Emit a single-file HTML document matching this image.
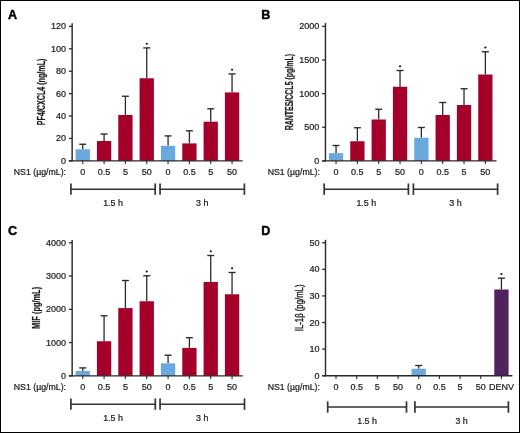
<!DOCTYPE html>
<html><head><meta charset="utf-8"><style>
html,body{margin:0;padding:0;background:#fff;width:520px;height:433px;overflow:hidden}
</style></head><body>
<svg width="520" height="433" viewBox="0 0 520 433" style="display:block;will-change:transform">
<rect x="0" y="0" width="520" height="433" fill="#fff"/>
<g font-family='"Liberation Sans", sans-serif' fill="#1a1a1a" stroke="none">
<text x="7.90" y="18.60" font-size="12.6" font-weight="bold" fill="#000" stroke="#000" stroke-width="0.4">A</text>
<line x1="72.15" y1="23.20" x2="72.15" y2="161.45" stroke="#2a2a2a" stroke-width="1.45"/>
<line x1="68.85" y1="160.85" x2="72.15" y2="160.85" stroke="#2a2a2a" stroke-width="1.3"/>
<text x="66.05" y="163.85" font-size="9.0" text-anchor="end" stroke="#1a1a1a" stroke-width="0.22" >0</text>
<line x1="68.85" y1="138.44" x2="72.15" y2="138.44" stroke="#2a2a2a" stroke-width="1.3"/>
<text x="66.05" y="141.44" font-size="9.0" text-anchor="end" stroke="#1a1a1a" stroke-width="0.22" >20</text>
<line x1="68.85" y1="116.03" x2="72.15" y2="116.03" stroke="#2a2a2a" stroke-width="1.3"/>
<text x="66.05" y="119.03" font-size="9.0" text-anchor="end" stroke="#1a1a1a" stroke-width="0.22" >40</text>
<line x1="68.85" y1="93.62" x2="72.15" y2="93.62" stroke="#2a2a2a" stroke-width="1.3"/>
<text x="66.05" y="96.62" font-size="9.0" text-anchor="end" stroke="#1a1a1a" stroke-width="0.22" >60</text>
<line x1="68.85" y1="71.22" x2="72.15" y2="71.22" stroke="#2a2a2a" stroke-width="1.3"/>
<text x="66.05" y="74.22" font-size="9.0" text-anchor="end" stroke="#1a1a1a" stroke-width="0.22" >80</text>
<line x1="68.85" y1="48.81" x2="72.15" y2="48.81" stroke="#2a2a2a" stroke-width="1.3"/>
<text x="66.05" y="51.81" font-size="9.0" text-anchor="end" stroke="#1a1a1a" stroke-width="0.22" >100</text>
<line x1="68.85" y1="26.40" x2="72.15" y2="26.40" stroke="#2a2a2a" stroke-width="1.3"/>
<text x="66.05" y="29.40" font-size="9.0" text-anchor="end" stroke="#1a1a1a" stroke-width="0.22" >120</text>
<text transform="translate(44.70,91.90) rotate(-90)" font-size="10" font-weight="bold" text-anchor="middle" textLength="66.6" lengthAdjust="spacingAndGlyphs" fill="#1a1a1a" stroke="#1a1a1a" stroke-width="0.2">PF4/CXCL4 (ng/mL)</text>
<line x1="82.75" y1="144.25" x2="82.75" y2="149.25" stroke="#2a2a2a" stroke-width="1.3"/>
<line x1="79.25" y1="144.25" x2="86.25" y2="144.25" stroke="#2a2a2a" stroke-width="1.35"/>
<rect x="75.60" y="149.25" width="14.30" height="11.60" fill="#6aa9de"/>
<line x1="104.08" y1="134.00" x2="104.08" y2="141.00" stroke="#2a2a2a" stroke-width="1.3"/>
<line x1="100.58" y1="134.00" x2="107.58" y2="134.00" stroke="#2a2a2a" stroke-width="1.35"/>
<rect x="96.93" y="141.00" width="14.30" height="19.85" fill="#a5002a"/>
<line x1="125.41" y1="96.25" x2="125.41" y2="115.00" stroke="#2a2a2a" stroke-width="1.3"/>
<line x1="121.91" y1="96.25" x2="128.91" y2="96.25" stroke="#2a2a2a" stroke-width="1.35"/>
<rect x="118.26" y="115.00" width="14.30" height="45.85" fill="#a5002a"/>
<line x1="146.74" y1="47.90" x2="146.74" y2="78.25" stroke="#2a2a2a" stroke-width="1.3"/>
<line x1="143.24" y1="47.90" x2="150.24" y2="47.90" stroke="#2a2a2a" stroke-width="1.35"/>
<rect x="139.59" y="78.25" width="14.30" height="82.60" fill="#a5002a"/>
<ellipse cx="146.74" cy="43.70" rx="1.1" ry="0.95" fill="#111"/>
<line x1="168.07" y1="135.90" x2="168.07" y2="145.80" stroke="#2a2a2a" stroke-width="1.3"/>
<line x1="164.57" y1="135.90" x2="171.57" y2="135.90" stroke="#2a2a2a" stroke-width="1.35"/>
<rect x="160.92" y="145.80" width="14.30" height="15.05" fill="#6aa9de"/>
<line x1="189.40" y1="130.80" x2="189.40" y2="143.40" stroke="#2a2a2a" stroke-width="1.3"/>
<line x1="185.90" y1="130.80" x2="192.90" y2="130.80" stroke="#2a2a2a" stroke-width="1.35"/>
<rect x="182.25" y="143.40" width="14.30" height="17.45" fill="#a5002a"/>
<line x1="210.73" y1="108.80" x2="210.73" y2="121.70" stroke="#2a2a2a" stroke-width="1.3"/>
<line x1="207.23" y1="108.80" x2="214.23" y2="108.80" stroke="#2a2a2a" stroke-width="1.35"/>
<rect x="203.58" y="121.70" width="14.30" height="39.15" fill="#a5002a"/>
<line x1="232.06" y1="73.90" x2="232.06" y2="92.40" stroke="#2a2a2a" stroke-width="1.3"/>
<line x1="228.56" y1="73.90" x2="235.56" y2="73.90" stroke="#2a2a2a" stroke-width="1.35"/>
<rect x="224.91" y="92.40" width="14.30" height="68.45" fill="#a5002a"/>
<ellipse cx="232.06" cy="69.70" rx="1.1" ry="0.95" fill="#111"/>
<line x1="68.85" y1="160.85" x2="242.60" y2="160.85" stroke="#2a2a2a" stroke-width="1.45"/>
<line x1="82.75" y1="160.85" x2="82.75" y2="164.05" stroke="#2a2a2a" stroke-width="1.1"/>
<line x1="104.08" y1="160.85" x2="104.08" y2="164.05" stroke="#2a2a2a" stroke-width="1.1"/>
<line x1="125.41" y1="160.85" x2="125.41" y2="164.05" stroke="#2a2a2a" stroke-width="1.1"/>
<line x1="146.74" y1="160.85" x2="146.74" y2="164.05" stroke="#2a2a2a" stroke-width="1.1"/>
<line x1="168.07" y1="160.85" x2="168.07" y2="164.05" stroke="#2a2a2a" stroke-width="1.1"/>
<line x1="189.40" y1="160.85" x2="189.40" y2="164.05" stroke="#2a2a2a" stroke-width="1.1"/>
<line x1="210.73" y1="160.85" x2="210.73" y2="164.05" stroke="#2a2a2a" stroke-width="1.1"/>
<line x1="232.06" y1="160.85" x2="232.06" y2="164.05" stroke="#2a2a2a" stroke-width="1.1"/>
<text x="82.75" y="175.25" font-size="9.0" text-anchor="middle" stroke="#1a1a1a" stroke-width="0.22" >0</text>
<text x="104.08" y="175.25" font-size="9.0" text-anchor="middle" stroke="#1a1a1a" stroke-width="0.22" >0.5</text>
<text x="125.41" y="175.25" font-size="9.0" text-anchor="middle" stroke="#1a1a1a" stroke-width="0.22" >5</text>
<text x="146.74" y="175.25" font-size="9.0" text-anchor="middle" stroke="#1a1a1a" stroke-width="0.22" >50</text>
<text x="168.07" y="175.25" font-size="9.0" text-anchor="middle" stroke="#1a1a1a" stroke-width="0.22" >0</text>
<text x="189.40" y="175.25" font-size="9.0" text-anchor="middle" stroke="#1a1a1a" stroke-width="0.22" >0.5</text>
<text x="210.73" y="175.25" font-size="9.0" text-anchor="middle" stroke="#1a1a1a" stroke-width="0.22" >5</text>
<text x="232.06" y="175.25" font-size="9.0" text-anchor="middle" stroke="#1a1a1a" stroke-width="0.22" >50</text>
<text x="66.00" y="175.25" font-size="8.75" text-anchor="end" stroke="#1a1a1a" stroke-width="0.22" >NS1 (µg/mL):</text>
<line x1="70.90" y1="189.15" x2="155.20" y2="189.15" stroke="#333" stroke-width="1.5"/>
<line x1="70.90" y1="183.45" x2="70.90" y2="194.85" stroke="#333" stroke-width="1.7"/>
<line x1="155.20" y1="183.45" x2="155.20" y2="194.85" stroke="#333" stroke-width="1.7"/>
<text x="113.05" y="205.65" font-size="8.9" text-anchor="middle" stroke="#1a1a1a" stroke-width="0.22" >1.5 h</text>
<line x1="160.05" y1="189.15" x2="244.40" y2="189.15" stroke="#333" stroke-width="1.5"/>
<line x1="160.05" y1="183.45" x2="160.05" y2="194.85" stroke="#333" stroke-width="1.7"/>
<line x1="244.40" y1="183.45" x2="244.40" y2="194.85" stroke="#333" stroke-width="1.7"/>
<text x="202.23" y="205.65" font-size="8.9" text-anchor="middle" stroke="#1a1a1a" stroke-width="0.22" >3 h</text>
<text x="261.15" y="18.50" font-size="12.6" font-weight="bold" fill="#000" stroke="#000" stroke-width="0.4">B</text>
<line x1="325.45" y1="23.10" x2="325.45" y2="161.45" stroke="#2a2a2a" stroke-width="1.45"/>
<line x1="322.15" y1="160.85" x2="325.45" y2="160.85" stroke="#2a2a2a" stroke-width="1.3"/>
<text x="319.35" y="163.85" font-size="9.0" text-anchor="end" stroke="#1a1a1a" stroke-width="0.22" >0</text>
<line x1="322.15" y1="127.24" x2="325.45" y2="127.24" stroke="#2a2a2a" stroke-width="1.3"/>
<text x="319.35" y="130.24" font-size="9.0" text-anchor="end" stroke="#1a1a1a" stroke-width="0.22" >500</text>
<line x1="322.15" y1="93.62" x2="325.45" y2="93.62" stroke="#2a2a2a" stroke-width="1.3"/>
<text x="319.35" y="96.62" font-size="9.0" text-anchor="end" stroke="#1a1a1a" stroke-width="0.22" >1000</text>
<line x1="322.15" y1="60.01" x2="325.45" y2="60.01" stroke="#2a2a2a" stroke-width="1.3"/>
<text x="319.35" y="63.01" font-size="9.0" text-anchor="end" stroke="#1a1a1a" stroke-width="0.22" >1500</text>
<line x1="322.15" y1="26.40" x2="325.45" y2="26.40" stroke="#2a2a2a" stroke-width="1.3"/>
<text x="319.35" y="29.40" font-size="9.0" text-anchor="end" stroke="#1a1a1a" stroke-width="0.22" >2000</text>
<text transform="translate(292.80,92.15) rotate(-90)" font-size="10" font-weight="bold" text-anchor="middle" textLength="76.3" lengthAdjust="spacingAndGlyphs" fill="#1a1a1a" stroke="#1a1a1a" stroke-width="0.2">RANTES/CCL5 (pg/mL)</text>
<line x1="336.05" y1="145.50" x2="336.05" y2="153.15" stroke="#2a2a2a" stroke-width="1.3"/>
<line x1="332.55" y1="145.50" x2="339.55" y2="145.50" stroke="#2a2a2a" stroke-width="1.35"/>
<rect x="328.90" y="153.15" width="14.30" height="7.70" fill="#6aa9de"/>
<line x1="357.38" y1="127.75" x2="357.38" y2="141.25" stroke="#2a2a2a" stroke-width="1.3"/>
<line x1="353.88" y1="127.75" x2="360.88" y2="127.75" stroke="#2a2a2a" stroke-width="1.35"/>
<rect x="350.23" y="141.25" width="14.30" height="19.60" fill="#a5002a"/>
<line x1="378.71" y1="109.25" x2="378.71" y2="119.50" stroke="#2a2a2a" stroke-width="1.3"/>
<line x1="375.21" y1="109.25" x2="382.21" y2="109.25" stroke="#2a2a2a" stroke-width="1.35"/>
<rect x="371.56" y="119.50" width="14.30" height="41.35" fill="#a5002a"/>
<line x1="400.04" y1="70.50" x2="400.04" y2="86.75" stroke="#2a2a2a" stroke-width="1.3"/>
<line x1="396.54" y1="70.50" x2="403.54" y2="70.50" stroke="#2a2a2a" stroke-width="1.35"/>
<rect x="392.89" y="86.75" width="14.30" height="74.10" fill="#a5002a"/>
<ellipse cx="400.04" cy="66.30" rx="1.1" ry="0.95" fill="#111"/>
<line x1="421.37" y1="127.50" x2="421.37" y2="137.75" stroke="#2a2a2a" stroke-width="1.3"/>
<line x1="417.87" y1="127.50" x2="424.87" y2="127.50" stroke="#2a2a2a" stroke-width="1.35"/>
<rect x="414.22" y="137.75" width="14.30" height="23.10" fill="#6aa9de"/>
<line x1="442.70" y1="102.50" x2="442.70" y2="115.00" stroke="#2a2a2a" stroke-width="1.3"/>
<line x1="439.20" y1="102.50" x2="446.20" y2="102.50" stroke="#2a2a2a" stroke-width="1.35"/>
<rect x="435.55" y="115.00" width="14.30" height="45.85" fill="#a5002a"/>
<line x1="464.03" y1="88.75" x2="464.03" y2="105.00" stroke="#2a2a2a" stroke-width="1.3"/>
<line x1="460.53" y1="88.75" x2="467.53" y2="88.75" stroke="#2a2a2a" stroke-width="1.35"/>
<rect x="456.88" y="105.00" width="14.30" height="55.85" fill="#a5002a"/>
<line x1="485.36" y1="51.75" x2="485.36" y2="74.50" stroke="#2a2a2a" stroke-width="1.3"/>
<line x1="481.86" y1="51.75" x2="488.86" y2="51.75" stroke="#2a2a2a" stroke-width="1.35"/>
<rect x="478.21" y="74.50" width="14.30" height="86.35" fill="#a5002a"/>
<ellipse cx="485.36" cy="47.55" rx="1.1" ry="0.95" fill="#111"/>
<line x1="322.15" y1="160.85" x2="496.50" y2="160.85" stroke="#2a2a2a" stroke-width="1.45"/>
<line x1="336.05" y1="160.85" x2="336.05" y2="164.05" stroke="#2a2a2a" stroke-width="1.1"/>
<line x1="357.38" y1="160.85" x2="357.38" y2="164.05" stroke="#2a2a2a" stroke-width="1.1"/>
<line x1="378.71" y1="160.85" x2="378.71" y2="164.05" stroke="#2a2a2a" stroke-width="1.1"/>
<line x1="400.04" y1="160.85" x2="400.04" y2="164.05" stroke="#2a2a2a" stroke-width="1.1"/>
<line x1="421.37" y1="160.85" x2="421.37" y2="164.05" stroke="#2a2a2a" stroke-width="1.1"/>
<line x1="442.70" y1="160.85" x2="442.70" y2="164.05" stroke="#2a2a2a" stroke-width="1.1"/>
<line x1="464.03" y1="160.85" x2="464.03" y2="164.05" stroke="#2a2a2a" stroke-width="1.1"/>
<line x1="485.36" y1="160.85" x2="485.36" y2="164.05" stroke="#2a2a2a" stroke-width="1.1"/>
<text x="336.05" y="175.25" font-size="9.0" text-anchor="middle" stroke="#1a1a1a" stroke-width="0.22" >0</text>
<text x="357.38" y="175.25" font-size="9.0" text-anchor="middle" stroke="#1a1a1a" stroke-width="0.22" >0.5</text>
<text x="378.71" y="175.25" font-size="9.0" text-anchor="middle" stroke="#1a1a1a" stroke-width="0.22" >5</text>
<text x="400.04" y="175.25" font-size="9.0" text-anchor="middle" stroke="#1a1a1a" stroke-width="0.22" >50</text>
<text x="421.37" y="175.25" font-size="9.0" text-anchor="middle" stroke="#1a1a1a" stroke-width="0.22" >0</text>
<text x="442.70" y="175.25" font-size="9.0" text-anchor="middle" stroke="#1a1a1a" stroke-width="0.22" >0.5</text>
<text x="464.03" y="175.25" font-size="9.0" text-anchor="middle" stroke="#1a1a1a" stroke-width="0.22" >5</text>
<text x="485.36" y="175.25" font-size="9.0" text-anchor="middle" stroke="#1a1a1a" stroke-width="0.22" >50</text>
<text x="319.90" y="175.25" font-size="8.75" text-anchor="end" stroke="#1a1a1a" stroke-width="0.22" >NS1 (µg/mL):</text>
<line x1="324.20" y1="189.15" x2="408.40" y2="189.15" stroke="#333" stroke-width="1.5"/>
<line x1="324.20" y1="183.45" x2="324.20" y2="194.85" stroke="#333" stroke-width="1.7"/>
<line x1="408.40" y1="183.45" x2="408.40" y2="194.85" stroke="#333" stroke-width="1.7"/>
<text x="366.30" y="205.65" font-size="8.9" text-anchor="middle" stroke="#1a1a1a" stroke-width="0.22" >1.5 h</text>
<line x1="413.40" y1="189.15" x2="497.60" y2="189.15" stroke="#333" stroke-width="1.5"/>
<line x1="413.40" y1="183.45" x2="413.40" y2="194.85" stroke="#333" stroke-width="1.7"/>
<line x1="497.60" y1="183.45" x2="497.60" y2="194.85" stroke="#333" stroke-width="1.7"/>
<text x="455.50" y="205.65" font-size="8.9" text-anchor="middle" stroke="#1a1a1a" stroke-width="0.22" >3 h</text>
<text x="7.90" y="235.30" font-size="12.6" font-weight="bold" fill="#000" stroke="#000" stroke-width="0.4">C</text>
<line x1="72.15" y1="240.00" x2="72.15" y2="376.45" stroke="#2a2a2a" stroke-width="1.45"/>
<line x1="68.85" y1="375.85" x2="72.15" y2="375.85" stroke="#2a2a2a" stroke-width="1.3"/>
<text x="66.05" y="378.85" font-size="9.0" text-anchor="end" stroke="#1a1a1a" stroke-width="0.22" >0</text>
<line x1="68.85" y1="342.59" x2="72.15" y2="342.59" stroke="#2a2a2a" stroke-width="1.3"/>
<text x="66.05" y="345.59" font-size="9.0" text-anchor="end" stroke="#1a1a1a" stroke-width="0.22" >1000</text>
<line x1="68.85" y1="309.33" x2="72.15" y2="309.33" stroke="#2a2a2a" stroke-width="1.3"/>
<text x="66.05" y="312.33" font-size="9.0" text-anchor="end" stroke="#1a1a1a" stroke-width="0.22" >2000</text>
<line x1="68.85" y1="276.06" x2="72.15" y2="276.06" stroke="#2a2a2a" stroke-width="1.3"/>
<text x="66.05" y="279.06" font-size="9.0" text-anchor="end" stroke="#1a1a1a" stroke-width="0.22" >3000</text>
<line x1="68.85" y1="242.80" x2="72.15" y2="242.80" stroke="#2a2a2a" stroke-width="1.3"/>
<text x="66.05" y="245.80" font-size="9.0" text-anchor="end" stroke="#1a1a1a" stroke-width="0.22" >4000</text>
<text transform="translate(39.50,307.90) rotate(-90)" font-size="10" font-weight="bold" text-anchor="middle" textLength="42.0" lengthAdjust="spacingAndGlyphs" fill="#1a1a1a" stroke="#1a1a1a" stroke-width="0.2">MIF (pg/mL)</text>
<line x1="82.75" y1="367.90" x2="82.75" y2="371.00" stroke="#2a2a2a" stroke-width="1.3"/>
<line x1="79.25" y1="367.90" x2="86.25" y2="367.90" stroke="#2a2a2a" stroke-width="1.35"/>
<rect x="75.60" y="371.00" width="14.30" height="4.85" fill="#6aa9de"/>
<line x1="104.08" y1="315.75" x2="104.08" y2="341.25" stroke="#2a2a2a" stroke-width="1.3"/>
<line x1="100.58" y1="315.75" x2="107.58" y2="315.75" stroke="#2a2a2a" stroke-width="1.35"/>
<rect x="96.93" y="341.25" width="14.30" height="34.60" fill="#a5002a"/>
<line x1="125.41" y1="280.50" x2="125.41" y2="308.10" stroke="#2a2a2a" stroke-width="1.3"/>
<line x1="121.91" y1="280.50" x2="128.91" y2="280.50" stroke="#2a2a2a" stroke-width="1.35"/>
<rect x="118.26" y="308.10" width="14.30" height="67.75" fill="#a5002a"/>
<line x1="146.74" y1="275.75" x2="146.74" y2="301.25" stroke="#2a2a2a" stroke-width="1.3"/>
<line x1="143.24" y1="275.75" x2="150.24" y2="275.75" stroke="#2a2a2a" stroke-width="1.35"/>
<rect x="139.59" y="301.25" width="14.30" height="74.60" fill="#a5002a"/>
<ellipse cx="146.74" cy="271.55" rx="1.1" ry="0.95" fill="#111"/>
<line x1="168.07" y1="355.20" x2="168.07" y2="363.30" stroke="#2a2a2a" stroke-width="1.3"/>
<line x1="164.57" y1="355.20" x2="171.57" y2="355.20" stroke="#2a2a2a" stroke-width="1.35"/>
<rect x="160.92" y="363.30" width="14.30" height="12.55" fill="#6aa9de"/>
<line x1="189.40" y1="337.70" x2="189.40" y2="347.90" stroke="#2a2a2a" stroke-width="1.3"/>
<line x1="185.90" y1="337.70" x2="192.90" y2="337.70" stroke="#2a2a2a" stroke-width="1.35"/>
<rect x="182.25" y="347.90" width="14.30" height="27.95" fill="#a5002a"/>
<line x1="210.73" y1="255.50" x2="210.73" y2="282.00" stroke="#2a2a2a" stroke-width="1.3"/>
<line x1="207.23" y1="255.50" x2="214.23" y2="255.50" stroke="#2a2a2a" stroke-width="1.35"/>
<rect x="203.58" y="282.00" width="14.30" height="93.85" fill="#a5002a"/>
<ellipse cx="210.73" cy="251.30" rx="1.1" ry="0.95" fill="#111"/>
<line x1="232.06" y1="272.50" x2="232.06" y2="294.25" stroke="#2a2a2a" stroke-width="1.3"/>
<line x1="228.56" y1="272.50" x2="235.56" y2="272.50" stroke="#2a2a2a" stroke-width="1.35"/>
<rect x="224.91" y="294.25" width="14.30" height="81.60" fill="#a5002a"/>
<ellipse cx="232.06" cy="268.30" rx="1.1" ry="0.95" fill="#111"/>
<line x1="68.85" y1="375.85" x2="242.80" y2="375.85" stroke="#2a2a2a" stroke-width="1.45"/>
<line x1="82.75" y1="375.85" x2="82.75" y2="379.05" stroke="#2a2a2a" stroke-width="1.1"/>
<line x1="104.08" y1="375.85" x2="104.08" y2="379.05" stroke="#2a2a2a" stroke-width="1.1"/>
<line x1="125.41" y1="375.85" x2="125.41" y2="379.05" stroke="#2a2a2a" stroke-width="1.1"/>
<line x1="146.74" y1="375.85" x2="146.74" y2="379.05" stroke="#2a2a2a" stroke-width="1.1"/>
<line x1="168.07" y1="375.85" x2="168.07" y2="379.05" stroke="#2a2a2a" stroke-width="1.1"/>
<line x1="189.40" y1="375.85" x2="189.40" y2="379.05" stroke="#2a2a2a" stroke-width="1.1"/>
<line x1="210.73" y1="375.85" x2="210.73" y2="379.05" stroke="#2a2a2a" stroke-width="1.1"/>
<line x1="232.06" y1="375.85" x2="232.06" y2="379.05" stroke="#2a2a2a" stroke-width="1.1"/>
<text x="82.75" y="390.25" font-size="9.0" text-anchor="middle" stroke="#1a1a1a" stroke-width="0.22" >0</text>
<text x="104.08" y="390.25" font-size="9.0" text-anchor="middle" stroke="#1a1a1a" stroke-width="0.22" >0.5</text>
<text x="125.41" y="390.25" font-size="9.0" text-anchor="middle" stroke="#1a1a1a" stroke-width="0.22" >5</text>
<text x="146.74" y="390.25" font-size="9.0" text-anchor="middle" stroke="#1a1a1a" stroke-width="0.22" >50</text>
<text x="168.07" y="390.25" font-size="9.0" text-anchor="middle" stroke="#1a1a1a" stroke-width="0.22" >0</text>
<text x="189.40" y="390.25" font-size="9.0" text-anchor="middle" stroke="#1a1a1a" stroke-width="0.22" >0.5</text>
<text x="210.73" y="390.25" font-size="9.0" text-anchor="middle" stroke="#1a1a1a" stroke-width="0.22" >5</text>
<text x="232.06" y="390.25" font-size="9.0" text-anchor="middle" stroke="#1a1a1a" stroke-width="0.22" >50</text>
<text x="66.00" y="390.25" font-size="8.75" text-anchor="end" stroke="#1a1a1a" stroke-width="0.22" >NS1 (µg/mL):</text>
<line x1="70.90" y1="404.15" x2="155.30" y2="404.15" stroke="#333" stroke-width="1.5"/>
<line x1="70.90" y1="398.45" x2="70.90" y2="409.85" stroke="#333" stroke-width="1.7"/>
<line x1="155.30" y1="398.45" x2="155.30" y2="409.85" stroke="#333" stroke-width="1.7"/>
<text x="113.10" y="420.65" font-size="8.9" text-anchor="middle" stroke="#1a1a1a" stroke-width="0.22" >1.5 h</text>
<line x1="160.05" y1="404.15" x2="244.50" y2="404.15" stroke="#333" stroke-width="1.5"/>
<line x1="160.05" y1="398.45" x2="160.05" y2="409.85" stroke="#333" stroke-width="1.7"/>
<line x1="244.50" y1="398.45" x2="244.50" y2="409.85" stroke="#333" stroke-width="1.7"/>
<text x="202.28" y="420.65" font-size="8.9" text-anchor="middle" stroke="#1a1a1a" stroke-width="0.22" >3 h</text>
<text x="261.15" y="235.30" font-size="12.6" font-weight="bold" fill="#000" stroke="#000" stroke-width="0.4">D</text>
<line x1="325.50" y1="239.80" x2="325.50" y2="376.30" stroke="#2a2a2a" stroke-width="1.45"/>
<line x1="322.20" y1="375.70" x2="325.50" y2="375.70" stroke="#2a2a2a" stroke-width="1.3"/>
<text x="319.40" y="378.70" font-size="9.0" text-anchor="end" stroke="#1a1a1a" stroke-width="0.22" >0</text>
<line x1="322.20" y1="349.12" x2="325.50" y2="349.12" stroke="#2a2a2a" stroke-width="1.3"/>
<text x="319.40" y="352.12" font-size="9.0" text-anchor="end" stroke="#1a1a1a" stroke-width="0.22" >10</text>
<line x1="322.20" y1="322.54" x2="325.50" y2="322.54" stroke="#2a2a2a" stroke-width="1.3"/>
<text x="319.40" y="325.54" font-size="9.0" text-anchor="end" stroke="#1a1a1a" stroke-width="0.22" >20</text>
<line x1="322.20" y1="295.96" x2="325.50" y2="295.96" stroke="#2a2a2a" stroke-width="1.3"/>
<text x="319.40" y="298.96" font-size="9.0" text-anchor="end" stroke="#1a1a1a" stroke-width="0.22" >30</text>
<line x1="322.20" y1="269.38" x2="325.50" y2="269.38" stroke="#2a2a2a" stroke-width="1.3"/>
<text x="319.40" y="272.38" font-size="9.0" text-anchor="end" stroke="#1a1a1a" stroke-width="0.22" >40</text>
<line x1="322.20" y1="242.80" x2="325.50" y2="242.80" stroke="#2a2a2a" stroke-width="1.3"/>
<text x="319.40" y="245.80" font-size="9.0" text-anchor="end" stroke="#1a1a1a" stroke-width="0.22" >50</text>
<text transform="translate(302.80,307.85) rotate(-90)" font-size="10" font-weight="normal" text-anchor="middle" textLength="46.7" lengthAdjust="spacingAndGlyphs" fill="#1a1a1a" stroke="#1a1a1a" stroke-width="0.35">IL-1β (pg/mL)</text>
<line x1="418.72" y1="365.50" x2="418.72" y2="368.75" stroke="#2a2a2a" stroke-width="1.3"/>
<line x1="415.22" y1="365.50" x2="422.22" y2="365.50" stroke="#2a2a2a" stroke-width="1.35"/>
<rect x="411.57" y="368.75" width="14.30" height="6.95" fill="#6aa9de"/>
<line x1="501.44" y1="278.20" x2="501.44" y2="289.50" stroke="#2a2a2a" stroke-width="1.3"/>
<line x1="497.94" y1="278.20" x2="504.94" y2="278.20" stroke="#2a2a2a" stroke-width="1.35"/>
<rect x="494.29" y="289.50" width="14.30" height="86.20" fill="#50235f"/>
<ellipse cx="501.44" cy="274.00" rx="1.1" ry="0.95" fill="#111"/>
<line x1="322.20" y1="375.70" x2="512.40" y2="375.70" stroke="#2a2a2a" stroke-width="1.45"/>
<line x1="336.00" y1="375.70" x2="336.00" y2="378.90" stroke="#2a2a2a" stroke-width="1.1"/>
<line x1="356.68" y1="375.70" x2="356.68" y2="378.90" stroke="#2a2a2a" stroke-width="1.1"/>
<line x1="377.36" y1="375.70" x2="377.36" y2="378.90" stroke="#2a2a2a" stroke-width="1.1"/>
<line x1="398.04" y1="375.70" x2="398.04" y2="378.90" stroke="#2a2a2a" stroke-width="1.1"/>
<line x1="418.72" y1="375.70" x2="418.72" y2="378.90" stroke="#2a2a2a" stroke-width="1.1"/>
<line x1="439.40" y1="375.70" x2="439.40" y2="378.90" stroke="#2a2a2a" stroke-width="1.1"/>
<line x1="460.08" y1="375.70" x2="460.08" y2="378.90" stroke="#2a2a2a" stroke-width="1.1"/>
<line x1="480.76" y1="375.70" x2="480.76" y2="378.90" stroke="#2a2a2a" stroke-width="1.1"/>
<line x1="501.44" y1="375.70" x2="501.44" y2="378.90" stroke="#2a2a2a" stroke-width="1.1"/>
<text x="336.00" y="390.10" font-size="9.0" text-anchor="middle" stroke="#1a1a1a" stroke-width="0.22" >0</text>
<text x="356.68" y="390.10" font-size="9.0" text-anchor="middle" stroke="#1a1a1a" stroke-width="0.22" >0.5</text>
<text x="377.36" y="390.10" font-size="9.0" text-anchor="middle" stroke="#1a1a1a" stroke-width="0.22" >5</text>
<text x="398.04" y="390.10" font-size="9.0" text-anchor="middle" stroke="#1a1a1a" stroke-width="0.22" >50</text>
<text x="418.72" y="390.10" font-size="9.0" text-anchor="middle" stroke="#1a1a1a" stroke-width="0.22" >0</text>
<text x="439.40" y="390.10" font-size="9.0" text-anchor="middle" stroke="#1a1a1a" stroke-width="0.22" >0.5</text>
<text x="460.08" y="390.10" font-size="9.0" text-anchor="middle" stroke="#1a1a1a" stroke-width="0.22" >5</text>
<text x="480.76" y="390.10" font-size="9.0" text-anchor="middle" stroke="#1a1a1a" stroke-width="0.22" >50</text>
<text x="501.44" y="390.10" font-size="9.0" text-anchor="middle" stroke="#1a1a1a" stroke-width="0.22" >DENV</text>
<text x="319.90" y="390.10" font-size="8.75" text-anchor="end" stroke="#1a1a1a" stroke-width="0.22" >NS1 (µg/mL):</text>
<line x1="327.70" y1="407.00" x2="406.50" y2="407.00" stroke="#333" stroke-width="1.5"/>
<line x1="327.70" y1="401.30" x2="327.70" y2="412.70" stroke="#333" stroke-width="1.7"/>
<line x1="406.50" y1="401.30" x2="406.50" y2="412.70" stroke="#333" stroke-width="1.7"/>
<text x="367.10" y="423.50" font-size="8.9" text-anchor="middle" stroke="#1a1a1a" stroke-width="0.22" >1.5 h</text>
<line x1="414.90" y1="407.00" x2="508.40" y2="407.00" stroke="#333" stroke-width="1.5"/>
<line x1="414.90" y1="401.30" x2="414.90" y2="412.70" stroke="#333" stroke-width="1.7"/>
<line x1="508.40" y1="401.30" x2="508.40" y2="412.70" stroke="#333" stroke-width="1.7"/>
<text x="461.65" y="423.50" font-size="8.9" text-anchor="middle" stroke="#1a1a1a" stroke-width="0.22" >3 h</text>
</g>
<rect x="0.5" y="0.5" width="519" height="432" fill="none" stroke="#000" stroke-width="1"/>
</svg>
</body></html>
